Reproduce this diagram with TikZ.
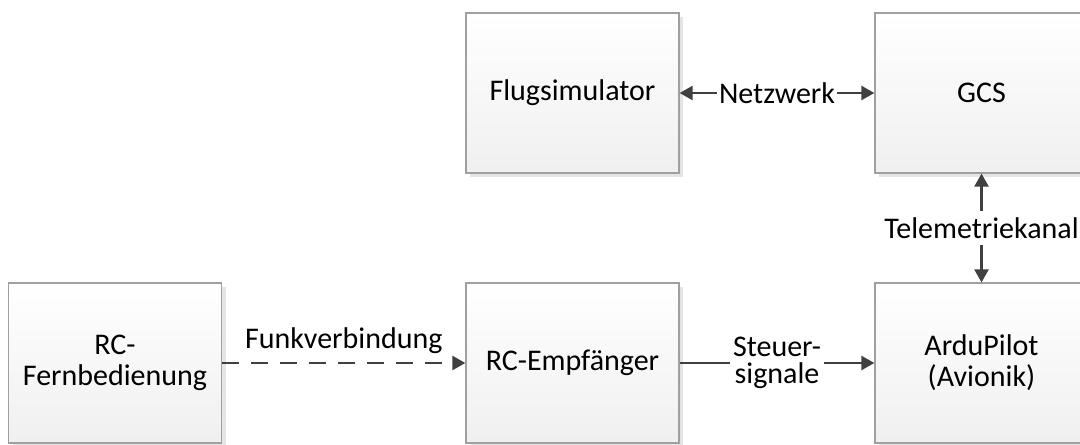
\documentclass[tikz,border=0pt]{standalone}
\usepackage{fontspec}
\setmainfont{Carlito}
\usetikzlibrary{arrows.meta,shadows}
\definecolor{boxline}{HTML}{A0A0A0}
\definecolor{arrowgray}{HTML}{404040}
\begin{document}
\begin{tikzpicture}[x=0.5pt,y=-0.5pt,
  block/.style={draw=boxline, line width=0.6pt,
    top color=white, bottom color=black!6,
    minimum width=106.5pt, minimum height=80pt, inner sep=0pt,
    align=center, font=\fontsize{15}{15.5}\selectfont,
    drop shadow={shadow xshift=2pt, shadow yshift=-2pt, fill=black!10, opacity=1}},
  link/.style={draw=arrowgray, line width=1.2pt, -{Triangle[length=6.5pt,width=7pt]}},
  biglink/.style={draw=arrowgray, line width=1.2pt,
    {Triangle[length=6.5pt,width=7pt]}-{Triangle[length=6.5pt,width=7pt]}},
  lbl/.style={fill=white, inner xsep=1pt, inner ysep=3pt, text=black,
    font=\fontsize{15}{15.5}\selectfont, align=center},
  lbltwo/.style={fill=white, inner xsep=1.5pt, inner ysep=1pt, text=black,
    font=\fontsize{15}{13.5}\selectfont, align=center}
]
\useasboundingbox (0,0) rectangle (1080,444);
\clip (0,0) rectangle (1080,444);

% blocks
\node[block] (flug) at (572.5,93)  {Flugsimulator};
\node[block] (gcs)  at (981.5,93)  {GCS};
\node[block] (fern) at (115,363)   {RC-\\Fernbedienung};
\node[block] (emp)  at (572.5,363) {RC-Empfänger};
\node[block] (ardu) at (981.5,363) {ArduPilot\\(Avionik)};

% connections
\draw[biglink] (flug) -- node[lbl] {Netzwerk} (gcs);
\draw[biglink] (gcs) -- node[lbl] {Telemetriekanal} (ardu);
\draw[link, dash pattern=on 8.5pt off 6pt] (fern) --
  node[above, inner sep=4pt, text=black, font=\fontsize{15}{15.5}\selectfont] {Funkverbindung} (emp);
\draw[link] (emp) -- node[lbltwo] {Steuer-\\signale} (ardu);
\end{tikzpicture}
\end{document}
